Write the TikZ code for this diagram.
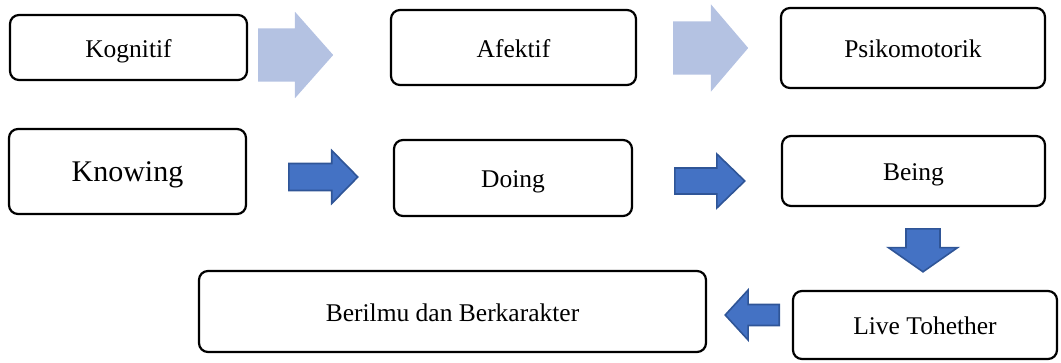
\documentclass[tikz,border=0pt]{standalone}
\usepackage{fontspec}
\setmainfont{Liberation Serif}
\usepackage{tikz}
\usetikzlibrary{shapes.arrows}
\definecolor{arrowpale}{HTML}{B4C2E2}
\definecolor{arrowblue}{HTML}{4472C4}
\definecolor{arrowedge}{HTML}{2F5597}

\begin{document}
\begin{tikzpicture}[
  x=1pt,y=-1pt,
  stage/.style={draw=black,line width=2.2pt,rounded corners=9pt,fill=white,
    inner sep=0pt,text height=19pt,text depth=0pt,
    font=\fontsize{25.5}{29}\selectfont},
  pale/.style={single arrow,fill=arrowpale,inner xsep=0pt,anchor=tail},
  bold/.style={single arrow,fill=arrowblue,draw=arrowedge,line width=1.6pt,
    inner xsep=0pt,anchor=tail}
]
  \useasboundingbox (0,0) rectangle (1061,362);

  % domain row
  \node[stage,minimum width=237pt,minimum height=65pt] (kognitif) at (128.5,47.5) {Kognitif};
  \node[stage,minimum width=245pt,minimum height=75pt] (afektif) at (513.5,47.5) {Afektif};
  \node[stage,minimum width=264pt,minimum height=80pt] (psikomotorik) at (913,48) {Psikomotorik};

  \node[pale,inner ysep=26.5pt,single arrow head extend=16.5pt,
    single arrow tip angle=97,minimum height=75pt] (kogaf) at (258,55) {};
  \node[pale,inner ysep=26.5pt,single arrow head extend=17pt,
    single arrow tip angle=99,minimum height=75pt] (afpsi) at (673,48) {};

  % process row
  \node[stage,minimum width=237pt,minimum height=85pt,
    font=\fontsize{30}{34}\selectfont] (knowing) at (127.5,171.5) {Knowing};
  \node[stage,minimum width=238pt,minimum height=76pt] (doing) at (513,178) {Doing};
  \node[stage,minimum width=263pt,minimum height=70pt] (being) at (913.5,171) {Being};

  \node[bold,inner ysep=12.7pt,single arrow head extend=13pt,
    single arrow tip angle=91,minimum height=69pt] (knowdo) at (288,177) {};
  \node[bold,inner ysep=12.2pt,single arrow head extend=14pt,
    single arrow tip angle=88,minimum height=70pt] (dobe) at (674,181) {};

  % outcome row
  \node[stage,minimum width=264pt,minimum height=68pt] (live) at (925,325) {Live Tohether};
  \node[stage,minimum width=507pt,minimum height=81pt] (berilmu) at (452.5,311.5) {Berilmu dan Berkarakter};

  \node[bold,shape border rotate=270,inner xsep=16.2pt,inner ysep=0pt,
    single arrow head extend=17.5pt,single arrow tip angle=110,
    minimum height=43pt] (belive) at (923,228) {};
  \node[bold,shape border rotate=180,inner ysep=9.7pt,single arrow head extend=14.5pt,
    single arrow tip angle=95,minimum height=54pt] (liveber) at (780,315) {};
\end{tikzpicture}
\end{document}
